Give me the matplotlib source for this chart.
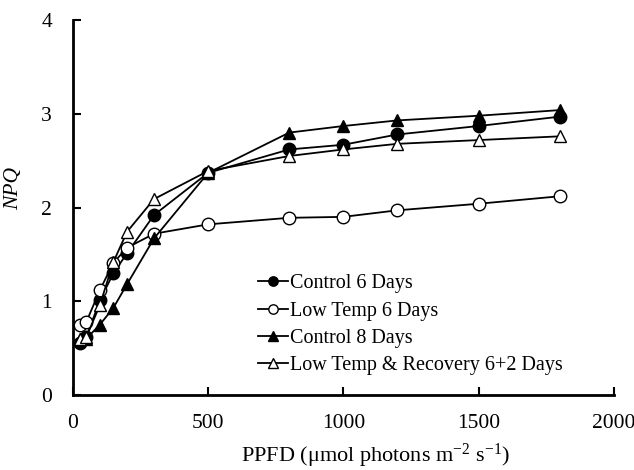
import matplotlib
matplotlib.use("Agg")
import matplotlib.pyplot as plt

ppfd = [25, 50, 100, 150, 200, 300, 500, 800, 1000, 1200, 1500, 1800]
control_6 = [0.55, 0.62, 1.01, 1.30, 1.51, 1.92, 2.37, 2.62, 2.67, 2.78, 2.87, 2.97]
lowtemp_6 = [0.75, 0.78, 1.12, 1.41, 1.57, 1.72, 1.82, 1.89, 1.90, 1.97, 2.04, 2.12]
control_8 = [0.60, 0.60, 0.75, 0.93, 1.18, 1.67, 2.37, 2.80, 2.87, 2.93, 2.98, 3.04]
recovery_62 = [0.60, 0.62, 0.96, 1.42, 1.74, 2.09, 2.39, 2.55, 2.62, 2.68, 2.72, 2.76]

labels = ["Control 6 Days", "Low Temp 6 Days", "Control 8 Days",
          "Low Temp & Recovery 6+2 Days"]
xticks = [0, 500, 1000, 1500, 2000]
yticks = [0, 1, 2, 3, 4]

plt.rcParams['font.family'] = ['Liberation Serif', 'DejaVu Serif']
plt.rcParams['mathtext.fontset'] = 'custom'
plt.rcParams['mathtext.rm'] = 'Liberation Serif'
plt.rcParams['mathtext.it'] = 'Liberation Serif:italic'

fig = plt.figure(figsize=(6.34, 4.70), dpi=100)
ax = fig.add_axes([0.115, 0.160, 0.853, 0.797])

series = [
    (control_6, 'o', 'black'),
    (lowtemp_6, 'o', 'white'),
    (control_8, '^', 'black'),
    (recovery_62, '^', 'white'),
]
for (vals, m, fc), lab in zip(series, labels):
    ax.plot(ppfd, vals, color='black', lw=1.3, marker=m, markersize=9,
            markerfacecolor=fc, markeredgecolor='black', markeredgewidth=1.0,
            label=lab)

ax.set_xlim(0, 2000)
ax.set_ylim(0, 4)
ax.set_xticks(xticks)
ax.set_yticks(yticks)
ax.tick_params(direction='in', length=6, width=1.5, labelsize=15.5)
ax.tick_params(axis='x', pad=14)
ax.tick_params(axis='y', pad=15)
for s in ['top', 'right']:
    ax.spines[s].set_visible(False)
for s in ['left', 'bottom']:
    ax.spines[s].set_linewidth(2)

ax.set_xlabel('PPFD (μmol photons m$^{-2}$ s$^{-1}$)', fontsize=16)
ax.xaxis.set_label_coords(0.56, -0.125)
ax.set_ylabel('NPQ', fontsize=15.5, fontstyle='italic')
ax.yaxis.set_label_coords(-0.092, 0.55)

leg = ax.legend(loc='lower left', bbox_to_anchor=(0.342, 0.053), frameon=False,
                fontsize=14.5, handlelength=1.5, handletextpad=0.1,
                labelspacing=0.4, markerscale=0.75, borderaxespad=0.0,
                borderpad=0.0)

fig.savefig('out.png', dpi=100)
